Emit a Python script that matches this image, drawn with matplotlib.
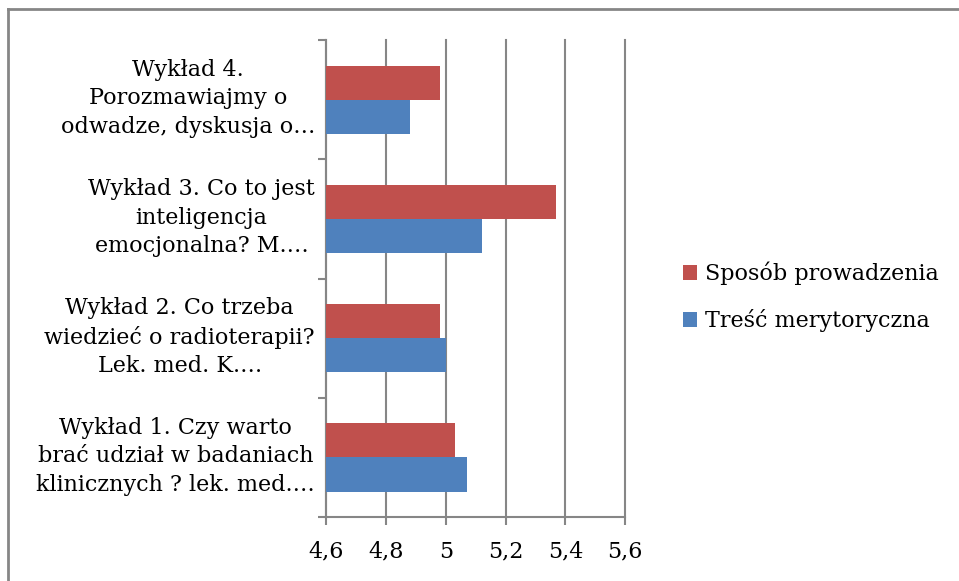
import matplotlib
matplotlib.use("Agg")
import matplotlib.pyplot as plt
import matplotlib.transforms as mtransforms
from matplotlib.lines import Line2D
import numpy as np

# Chart data
categories = [
    "Wykład 1. Czy warto\nbrać udział w badaniach\nklinicznych ? lek. med.…",
    "Wykład 2. Co trzeba\nwiedzieć o radioterapii?\nLek. med. K.…",
    "Wykład 3. Co to jest\ninteligencja\nemocjonalna? M.…",
    "Wykład 4.\nPorozmawiajmy o\nodwadze, dyskusja o…",
]
sposob = [5.03, 4.98, 5.37, 4.98]
tresc = [5.07, 5.00, 5.12, 4.88]
x_ticks = [4.6, 4.8, 5.0, 5.2, 5.4, 5.6]
x_labels = ["4,6", "4,8", "5", "5,2", "5,4", "5,6"]

plt.rcParams['font.family'] = ['DejaVu Serif']
grid_col = '#868686'
fs = 16

fig = plt.figure(figsize=(9.59, 5.81), dpi=100)
ax = fig.add_axes([0.340, 0.110, 0.312, 0.821])

y = np.arange(len(categories))
h = 0.286
left = x_ticks[0]
ax.barh(y - h / 2, np.array(tresc) - left, h, left=left, color='#4F81BD',
        label='Treść merytoryczna', zorder=3)
ax.barh(y + h / 2, np.array(sposob) - left, h, left=left, color='#C0504D',
        label='Sposób prowadzenia', zorder=3)

ax.set_xlim(4.6, 5.6)
ax.set_ylim(-0.5, 3.5)
ax.set_xticks(x_ticks)
ax.set_xticklabels(x_labels, fontsize=fs)
ax.xaxis.grid(True, color=grid_col, linewidth=1.5, zorder=0)
for gl in ax.get_xgridlines():
    gl.set_clip_on(False)

# category labels centred on groups, ticks on group boundaries
ax.set_yticks(y)
ax.set_yticklabels(categories, fontsize=fs, multialignment='center', linespacing=1.38)
ax.set_yticks(np.arange(-0.5, 4.0, 1.0), minor=True)
ax.tick_params(axis='y', which='major', length=0, pad=8)
ax.tick_params(axis='y', which='minor', length=6, width=1.5, color=grid_col)
ax.tick_params(axis='x', length=6, width=1.5, color=grid_col, pad=11)

# nudge the category labels up a little
shift = mtransforms.ScaledTranslation(0, 5 / 72, fig.dpi_scale_trans)
for lbl in ax.get_yticklabels():
    lbl.set_transform(lbl.get_transform() + shift)

for s in ['top', 'right']:
    ax.spines[s].set_visible(False)
for s in ['left', 'bottom']:
    ax.spines[s].set_color(grid_col)
    ax.spines[s].set_linewidth(1.5)

handles, labels = ax.get_legend_handles_labels()
fig.legend(handles[::-1], labels[::-1], loc='center left',
           bbox_to_anchor=(0.712, 0.489), frameon=False, fontsize=fs,
           handlelength=0.65, handleheight=0.65, handletextpad=0.35,
           labelspacing=1.1, borderpad=0, borderaxespad=0)

# outer chart border (top and left visible)
fig.add_artist(Line2D([0.0085, 1.0], [0.985, 0.985], color=grid_col, linewidth=2))
fig.add_artist(Line2D([0.0085, 0.0085], [0.0, 0.985], color=grid_col, linewidth=2))

fig.savefig('out.png', dpi=100)
